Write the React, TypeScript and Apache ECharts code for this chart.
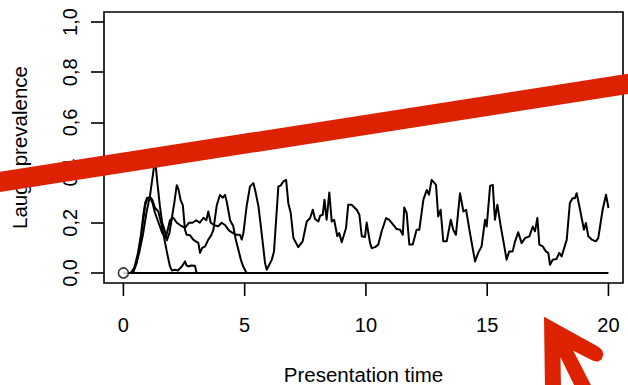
import React, { useEffect, useRef } from "react";
import * as echarts from "echarts";

const xTicks = [0, 5, 10, 15, 20];
const yTicks = [0, 0.2, 0.4, 0.6, 0.8, 1];
const xTitle = "Presentation time";
const yTitle = "Laugh prevalence";

const timesA = [0, 0.4, 0.55, 0.7, 0.8, 0.9, 1.0, 1.1, 1.2, 1.3, 1.45, 1.6, 1.75, 1.92, 2.06, 2.2, 2.35, 2.54, 2.7, 2.85, 3.0, 3.15, 3.3, 3.42, 3.5, 3.6, 3.75, 3.91, 4.05, 4.2, 4.35, 4.5, 4.67, 4.81, 4.88, 4.95, 5.08, 5.22, 5.36, 5.43, 5.57, 5.7, 5.84, 5.91, 6.12, 6.21, 6.39, 6.48, 6.6, 6.71, 6.8, 6.9, 7.01, 7.21, 7.39, 7.56, 7.7, 7.81, 7.9, 8.04, 8.11, 8.22, 8.29, 8.38, 8.49, 8.59, 8.69, 8.82, 8.9, 9.0, 9.18, 9.27, 9.41, 9.62, 9.73, 9.83, 9.96, 10.03, 10.17, 10.24, 10.38, 10.51, 10.65, 10.83, 10.96, 11.13, 11.27, 11.41, 11.52, 11.58, 11.68, 11.79, 11.93, 12.09, 12.2, 12.37, 12.51, 12.6, 12.71, 12.89, 12.98, 13.08, 13.19, 13.33, 13.5, 13.6, 13.71, 13.88, 14.02, 14.13, 14.29, 14.5, 14.63, 14.77, 14.91, 14.98, 15.12, 15.23, 15.32, 15.42, 15.56, 15.73, 15.8, 15.91, 16.05, 16.15, 16.28, 16.42, 16.56, 16.74, 16.88, 16.97, 17.07, 17.15, 17.29, 17.42, 17.52, 17.59, 17.7, 17.86, 17.97, 18.07, 18.28, 18.41, 18.52, 18.62, 18.69, 18.83, 18.99, 19.07, 19.17, 19.31, 19.48, 19.58, 19.76, 19.9, 20.0];
const valuesA = [0, 0, 0.04, 0.12, 0.2, 0.27, 0.3, 0.3, 0.28, 0.24, 0.2, 0.16, 0.14, 0.21, 0.22, 0.2, 0.19, 0.18, 0.2, 0.2, 0.21, 0.2, 0.22, 0.21, 0.245, 0.2, 0.19, 0.186, 0.2, 0.19, 0.17, 0.16, 0.152, 0.152, 0.133, 0.16, 0.265, 0.345, 0.358, 0.331, 0.265, 0.159, 0.04, 0.013, 0.053, 0.086, 0.345, 0.348, 0.365, 0.371, 0.278, 0.239, 0.139, 0.103, 0.126, 0.205, 0.219, 0.252, 0.215, 0.205, 0.228, 0.232, 0.292, 0.212, 0.321, 0.205, 0.212, 0.146, 0.159, 0.122, 0.179, 0.272, 0.272, 0.252, 0.232, 0.146, 0.143, 0.201, 0.119, 0.099, 0.103, 0.113, 0.166, 0.219, 0.212, 0.192, 0.175, 0.172, 0.152, 0.261, 0.239, 0.113, 0.113, 0.172, 0.172, 0.292, 0.331, 0.312, 0.371, 0.351, 0.225, 0.252, 0.126, 0.126, 0.212, 0.172, 0.152, 0.318, 0.245, 0.252, 0.159, 0.046, 0.08, 0.106, 0.212, 0.185, 0.347, 0.351, 0.212, 0.272, 0.185, 0.093, 0.053, 0.086, 0.086, 0.126, 0.162, 0.119, 0.139, 0.146, 0.185, 0.166, 0.219, 0.113, 0.106, 0.086, 0.08, 0.033, 0.053, 0.056, 0.08, 0.066, 0.133, 0.279, 0.298, 0.298, 0.318, 0.252, 0.172, 0.199, 0.146, 0.133, 0.126, 0.139, 0.252, 0.312, 0.259];

const timesB = [0.35, 0.5, 0.65, 0.8, 0.95, 1.1, 1.2, 1.27, 1.33, 1.4, 1.5, 1.6, 1.7, 1.79, 1.9, 2.0, 2.1, 2.2, 2.28, 2.36, 2.45, 2.54, 2.61, 2.75, 2.88, 3.0, 3.09, 3.16, 3.25, 3.37, 3.5, 3.62, 3.71, 3.85, 3.98, 4.1, 4.19, 4.26, 4.4, 4.53, 4.64, 4.74, 4.85, 4.94, 5.08];
const valuesB = [0, 0.03, 0.08, 0.15, 0.24, 0.31, 0.38, 0.43, 0.43, 0.36, 0.27, 0.2, 0.17, 0.13, 0.16, 0.22, 0.28, 0.35, 0.33, 0.29, 0.27, 0.172, 0.152, 0.15, 0.133, 0.125, 0.12, 0.08, 0.1, 0.106, 0.133, 0.15, 0.172, 0.27, 0.311, 0.3, 0.311, 0.285, 0.21, 0.186, 0.13, 0.093, 0.05, 0.026, 0];

const timesC = [0.3, 0.45, 0.6, 0.72, 0.82, 0.9, 0.98, 1.05, 1.12, 1.2, 1.3, 1.44, 1.58, 1.7, 1.8, 1.92, 2.0, 2.13, 2.25, 2.41, 2.54, 2.6, 2.68, 2.8, 2.95, 3.02];
const valuesC = [0, 0.02, 0.08, 0.15, 0.23, 0.28, 0.3, 0.29, 0.3, 0.29, 0.26, 0.245, 0.19, 0.13, 0.08, 0.026, 0.01, 0.013, 0.01, 0.026, 0.046, 0.03, 0.026, 0.03, 0.029, 0];

const timesZero = [0, 20];
const valuesZero = [0, 0];

const startPoint = [0, 0];

const FONT = '"Liberation Sans", Arial, Helvetica, sans-serif';
const RED = "#dc2200";
const Y_MIN = -0.04;
const Y_MAX = 1.04;

const pairs = (xs: number[], ys: number[]) => xs.map((x, i) => [x, ys[i]]);
const fmt = (v: number) => v.toFixed(1).replace(".", ",");

export default function App() {
  const ref = useRef<HTMLDivElement>(null);
  useEffect(() => {
    if (!ref.current) return;
    const chart = echarts.init(ref.current, undefined, { renderer: "svg" });
    const lineSeries = (name: string, xs: number[], ys: number[]) => ({
      name,
      type: "line",
      data: pairs(xs, ys),
      showSymbol: false,
      symbol: "none",
      lineStyle: { color: "#000", width: 2, join: "round" },
      z: 3,
    });
    chart.setOption({
      animation: false,
      backgroundColor: "#fff",
      textStyle: { fontFamily: FONT },
      grid: {
        left: 104,
        right: 5,
        top: 12,
        bottom: 102,
        outerBoundsMode: "none",
        containLabel: false,
        show: true,
        borderColor: "#000",
        borderWidth: 1.6,
        backgroundColor: "transparent",
      },
      xAxis: {
        type: "value",
        min: -0.8,
        max: 20.6,
        axisLine: { show: false, onZero: false },
        splitLine: { show: false },
        axisTick: { show: false },
        axisLabel: {
          customValues: xTicks,
          margin: 32,
          fontSize: 20,
          color: "#000",
          fontFamily: FONT,
          formatter: (v: number) => String(v),
        },
        name: xTitle,
        nameLocation: "middle",
        nameGap: 81,
        nameTextStyle: { fontSize: 20.5, color: "#000", fontFamily: FONT },
      },
      yAxis: {
        type: "value",
        min: Y_MIN,
        max: Y_MAX,
        axisLine: { show: false, onZero: false },
        splitLine: { show: false },
        axisTick: {
          show: true,
          inside: false,
          customValues: yTicks,
          length: 13,
          lineStyle: { color: "#000", width: 1.6 },
        },
        axisLabel: {
          customValues: yTicks,
          rotate: 90,
          margin: 24,
          fontSize: 20,
          color: "#000",
          fontFamily: FONT,
          formatter: (v: number) => fmt(v),
        },
        name: yTitle,
        nameLocation: "middle",
        nameGap: 74,
        nameTextStyle: { fontSize: 20.5, color: "#000", fontFamily: FONT },
      },
      series: [
        lineSeries("zero", timesZero, valuesZero),
        lineSeries("C", timesC, valuesC),
        lineSeries("B", timesB, valuesB),
        lineSeries("A", timesA, valuesA),
        {
          name: "start",
          type: "scatter",
          data: [startPoint],
          symbol: "circle",
          symbolSize: 10,
          itemStyle: { color: "#fff", borderColor: "#000", borderWidth: 1.6 },
          z: 4,
        },
      ],
    });

    const tickRects = xTicks.map((v) => {
      const p = chart.convertToPixel({ gridIndex: 0 }, [v, Y_MIN]) as number[];
      return {
        type: "rect",
        z: 90,
        shape: { x: p[0] - 0.8, y: p[1], width: 1.6, height: 13 },
        style: { fill: "#000" },
      };
    });

    chart.setOption({
      graphic: [
        ...tickRects,
        {
          type: "line",
          z: 100,
          shape: { x1: -10, y1: 183.5, x2: 640, y2: 82 },
          style: { stroke: RED, lineWidth: 20 },
        },
        {
          type: "polygon",
          z: 100,
          shape: {
            points: [
              [544, 316.7],
              [598.3, 346.7],
              [602, 350],
              [603.5, 354.5],
              [601.5, 359.5],
              [597.5, 361.7],
              [592.5, 360.5],
              [573.3, 350.7],
              [593.5, 390],
              [576.5, 390],
              [560.5, 357.3],
              [561, 390],
              [545, 390],
            ],
          },
          style: { fill: RED },
        },
      ],
    });
    return () => chart.dispose();
  }, []);
  return (
    <div
      ref={ref}
      style={{ position: "fixed", left: 0, top: 0, width: 628, height: 385, background: "#fff" }}
    />
  );
}
